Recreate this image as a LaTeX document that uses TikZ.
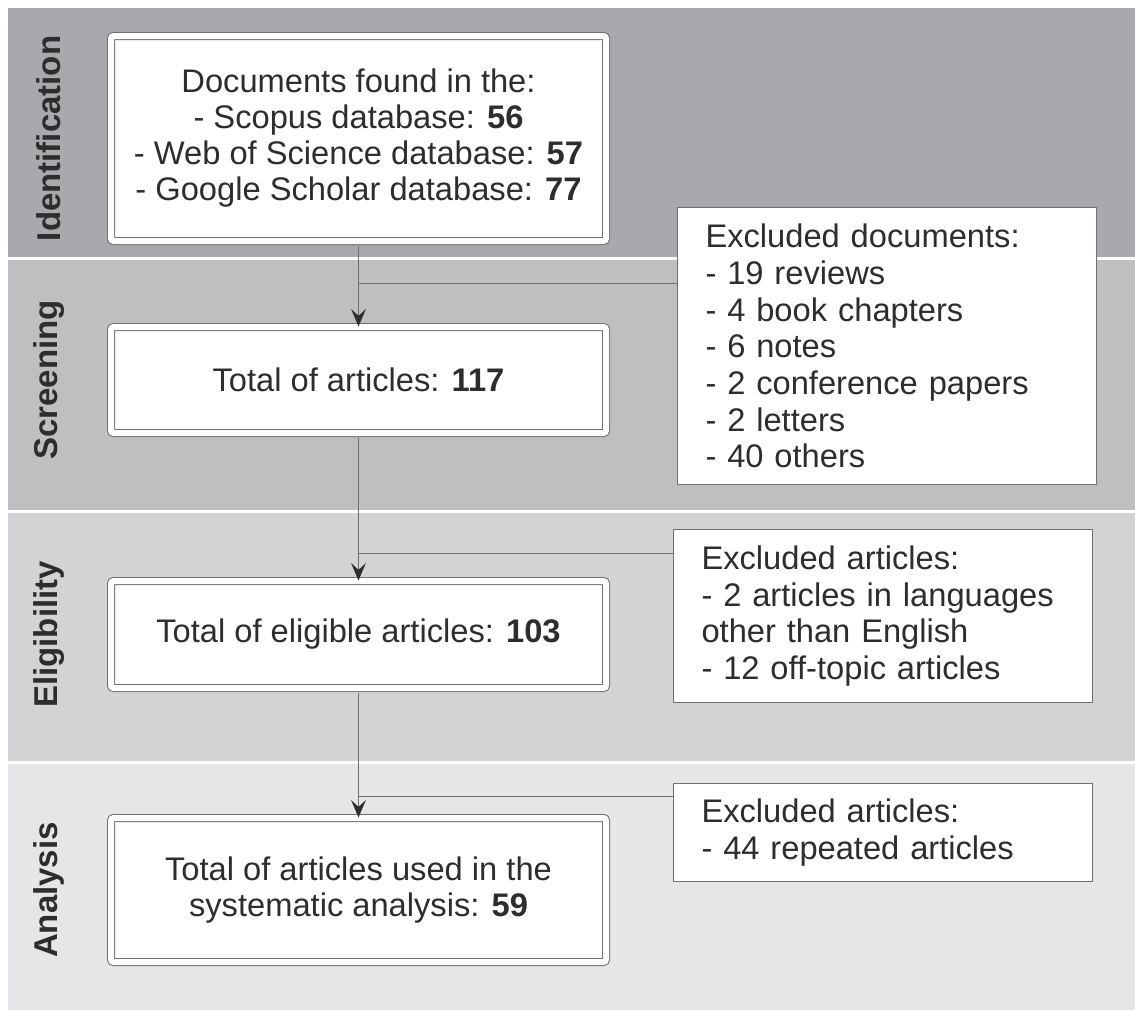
\documentclass[tikz,border=0pt]{standalone}
\usepackage{fontspec}
\setmainfont{Liberation Sans}
\usetikzlibrary{arrows.meta}
\hyphenpenalty=10000

\definecolor{bandone}{RGB}{168,169,172}
\definecolor{bandtwo}{RGB}{190,191,193}
\definecolor{bandthree}{RGB}{210,211,213}
\definecolor{bandfour}{RGB}{229,230,231}
\definecolor{inkgray}{RGB}{45,45,45}
\definecolor{linegray}{RGB}{112,112,112}

\tikzset{
  stagebox/.style={draw=linegray, double=white, double distance=4.5pt, line width=0.75pt,
    rounded corners=2pt, fill=white, inner sep=0pt, minimum width=371.25pt,
    align=center, text=inkgray, font=\fontsize{24.5}{27}\selectfont},
  exclbox/.style={draw=linegray, line width=0.75pt, fill=white, anchor=north west,
    inner xsep=21pt, inner ysep=0pt, text width=272pt, align=left, text=inkgray,
    font=\fontsize{24.5}{27.5}\selectfont},
  phase/.style={rotate=90, text=inkgray, font=\fontsize{24.75}{28}\selectfont\bfseries},
  flow/.style={draw=linegray, line width=0.75pt},
  flowarrow/.style={flow, shorten <=3pt, -{Stealth[length=13pt, width=11pt, inset=5pt, color=inkgray]}},
}

\begin{document}
\begin{tikzpicture}[x=0.75pt,y=0.75pt,yscale=-1]
\useasboundingbox (0,0) rectangle (1135,1010);

%Bands
\fill[bandone] (8,8) rectangle (1135,256.5);
\fill[bandtwo] (8,259.5) rectangle (1135,510);
\fill[bandthree] (8,512.5) rectangle (1135,761);
\fill[bandfour] (8,764) rectangle (1135,1010);

% Phase labels
\node[phase] (lblident) at (49,138.5) {Identification};
\node[phase] (lblscreen) at (49,380) {Screening};
\node[phase] (lblelig) at (49,634.5) {Eligibility};
\node[phase] (lblanal) at (49,890) {Analysis};

% Stage boxes
\node[stagebox, minimum height=153.75pt] (found) at (358.5,138.5)
  {Documents found in the:\\ - Scopus database: \textbf{56}\\ - Web of Science database: \textbf{57}\\ - Google Scholar database: \textbf{77}};
\node[stagebox, minimum height=79.5pt] (total) at (358.5,380) {Total of articles: \textbf{117}};
\node[stagebox, minimum height=80.25pt] (eligible) at (358.5,634.5) {Total of eligible articles: \textbf{103}};
\node[stagebox, minimum height=108pt] (used) at (358.5,890)
  {Total of articles used in the\\ systematic analysis: \textbf{59}};

% Excluded boxes
\node[exclbox, minimum height=207.75pt] (exdocs) at (677,207)
  {Excluded documents:\\ - 19 reviews\\ - 4 book chapters\\ - 6 notes\\ - 2 conference papers\\ - 2 letters\\ - 40 others};
\node[exclbox, minimum height=129.75pt] (exlang) at (673,529)
  {Excluded articles:\\ - 2 articles in languages\\ other than English\\ - 12 off-topic articles};
\node[exclbox, minimum height=73.5pt] (exrep) at (673,783)
  {Excluded articles:\\ - 44 repeated articles};

% Branch points
\coordinate (brone) at (358.5,283);
\coordinate (brtwo) at (358.5,553);
\coordinate (brthree) at (358.5,796);

% Connectors
\draw[flowarrow] (found) -- (total);
\draw[flowarrow] (total) -- (eligible);
\draw[flowarrow] (eligible) -- (used);
\draw[flow] (brone) -- (brone -| exdocs.west);
\draw[flow] (brtwo) -- (brtwo -| exlang.west);
\draw[flow] (brthree) -- (brthree -| exrep.west);
\end{tikzpicture}
\end{document}
